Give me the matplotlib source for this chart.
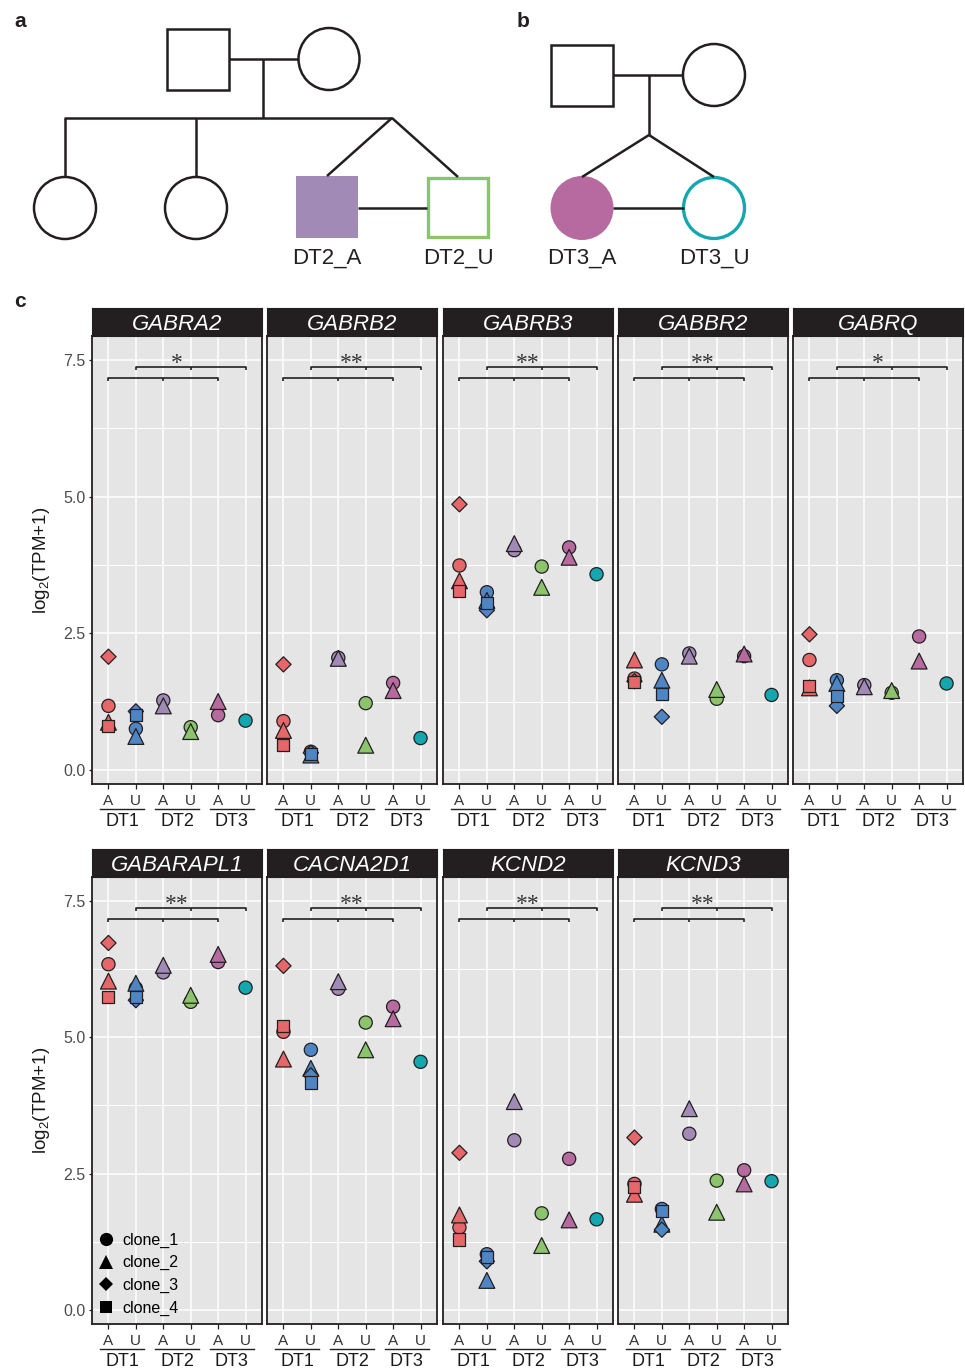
import numpy as np
import matplotlib
matplotlib.use("Agg")
import matplotlib.pyplot as plt
from matplotlib.patches import Rectangle, Ellipse
from matplotlib.lines import Line2D

plt.rcParams["font.family"] = ["Liberation Sans", "DejaVu Sans"]
plt.rcParams["mathtext.default"] = "regular"

# ---- data (log2(TPM+1)) ----
genes = ["GABRA2", "GABRB2", "GABRB3", "GABBR2", "GABRQ",
         "GABARAPL1", "CACNA2D1", "KCND2", "KCND3"]
stars = ["*", "**", "**", "**", "*", "**", "**", "**", "**"]
samples = ["DT1_A", "DT1_U", "DT2_A", "DT2_U", "DT3_A", "DT3_U"]
sample_ticks = ["A", "U", "A", "U", "A", "U"]
donors = ["DT1", "DT2", "DT3"]
clones = ["clone_1", "clone_2", "clone_3", "clone_4"]

# columns follow `samples`; nan = clone not present
clone_1 = [
    [1.17, 0.75, 1.27, 0.78, 1.00, 0.90],
    [0.89, 0.33, 2.05, 1.22, 1.59, 0.58],
    [3.74, 3.25, 4.02, 3.72, 4.07, 3.58],
    [1.67, 1.93, 2.13, 1.30, 2.08, 1.37],
    [2.01, 1.64, 1.55, 1.41, 2.44, 1.58],
    [6.34, 5.90, 6.19, 5.65, 6.38, 5.91],
    [5.10, 4.77, 5.89, 5.27, 5.56, 4.55],
    [1.51, 1.02, 3.11, 1.77, 2.77, 1.66],
    [2.31, 1.85, 3.23, 2.37, 2.56, 2.36],
]
nan = np.nan
clone_2 = [
    [0.87, 0.61, 1.17, 0.70, 1.25, nan],
    [0.72, 0.27, 2.04, 0.45, 1.45, nan],
    [3.46, 3.10, 4.14, 3.34, 3.89, nan],
    [2.01, 1.64, 2.08, 1.47, 2.12, nan],
    [1.50, 1.58, 1.52, 1.45, 1.99, nan],
    [6.03, 5.99, 6.32, 5.77, 6.52, nan],
    [4.60, 4.43, 6.02, 4.77, 5.34, nan],
    [1.74, 0.54, 3.82, 1.18, 1.65, nan],
    [2.12, 1.57, 3.69, 1.79, 2.31, nan],
]
clone_3 = [
    [2.07, 1.07, nan, nan, nan, nan],
    [1.93, 0.31, nan, nan, nan, nan],
    [4.86, 2.92, nan, nan, nan, nan],
    [1.62, 0.97, nan, nan, nan, nan],
    [2.48, 1.17, nan, nan, nan, nan],
    [6.73, 5.68, nan, nan, nan, nan],
    [6.31, 4.30, nan, nan, nan, nan],
    [2.88, 0.89, nan, nan, nan, nan],
    [3.16, 1.47, nan, nan, nan, nan],
]
clone_4 = [
    [0.81, 1.01, nan, nan, nan, nan],
    [0.45, 0.29, nan, nan, nan, nan],
    [3.27, 3.05, nan, nan, nan, nan],
    [1.60, 1.39, nan, nan, nan, nan],
    [1.54, 1.35, nan, nan, nan, nan],
    [5.74, 5.74, nan, nan, nan, nan],
    [5.20, 4.17, nan, nan, nan, nan],
    [1.29, 0.97, nan, nan, nan, nan],
    [2.25, 1.82, nan, nan, nan, nan],
]

# ---- style ----
ink = "#231F20"
sample_colors = ["#E5676A", "#4E86C5", "#A18BB6", "#8BC46D", "#B66AA0", "#14A7AF"]
clone_markers = ["o", "^", "D", "s"]
clone_sizes = [90, 130, 60, 75]

W, H = 965, 1372
fig = plt.figure(figsize=(W / 100, H / 100), dpi=100)


def box(x0, y0, x1, y1):
    return [x0 / W, 1 - y1 / H, (x1 - x0) / W, (y1 - y0) / H]


# ---- pedigrees (a, b) drawn in pixel space ----
bg = fig.add_axes([0, 0, 1, 1])
bg.set_xlim(0, W)
bg.set_ylim(H, 0)
bg.axis("off")
plw = 1.8


def seg(x0, y0, x1, y1):
    bg.plot([x0, x1], [y0, y1], color=ink, lw=plw, solid_capstyle="butt")


# a
bg.add_patch(Rectangle((167, 29), 62, 61, fill=False, ec=ink, lw=plw))
bg.add_patch(Ellipse((329, 59), 61, 62, fill=False, ec=ink, lw=plw))
seg(229, 59, 298, 59)
seg(263, 59, 263, 118)
seg(64, 118, 392, 118)
seg(65, 118, 65, 177)
seg(196, 118, 196, 177)
bg.add_patch(Ellipse((65, 208), 62, 62, fill=False, ec=ink, lw=plw))
bg.add_patch(Ellipse((196, 208), 62, 62, fill=False, ec=ink, lw=plw))
seg(392, 118, 327, 176)
seg(392, 118, 458, 177)
bg.add_patch(Rectangle((296, 176), 62, 62, fc=sample_colors[2], ec="none"))
bg.add_patch(Rectangle((428, 178), 60, 59, fill=False, ec=sample_colors[3], lw=2.4))
seg(358, 208, 427, 208)
bg.text(327, 264, "DT2_A", ha="center", va="baseline", fontsize=16, color=ink)
bg.text(458, 264, "DT2_U", ha="center", va="baseline", fontsize=16, color=ink)

# b
bg.add_patch(Rectangle((551, 45), 62, 61, fill=False, ec=ink, lw=plw))
bg.add_patch(Ellipse((714, 75), 62, 62, fill=False, ec=ink, lw=plw))
seg(613, 75, 683, 75)
seg(649, 75, 649, 135)
seg(649, 135, 582, 177)
seg(649, 135, 714, 177)
bg.add_patch(Ellipse((582, 208), 63, 64, fc=sample_colors[4], ec="none"))
seg(613, 208, 684, 208)
bg.add_patch(Ellipse((714, 208), 61, 61, fill=False, ec=sample_colors[5], lw=2.4))
bg.text(582, 264, "DT3_A", ha="center", va="baseline", fontsize=16, color=ink)
bg.text(714, 264, "DT3_U", ha="center", va="baseline", fontsize=16, color=ink)

for lab, (lx, ly) in zip(["a", "b", "c"], [(20, 27), (523, 27), (20, 307)]):
    bg.text(lx, ly, lab, ha="center", va="baseline", fontsize=15,
            fontweight="bold", color=ink)

# ---- panels (c) ----
lefts = [92, 267, 443, 618, 793]
rows = [(336, 784), (877, 1324)]
pw = 170
strip_h = 28
x = np.arange(1, 7)
all_clones = [clone_1, clone_2, clone_3, clone_4]

for i, gene in enumerate(genes):
    r, c = divmod(i, 5)
    y0, y1 = rows[r]
    ax = fig.add_axes(box(lefts[c], y0, lefts[c] + pw, y1))
    ax.set_facecolor("#E5E5E5")
    ax.set_xlim(0.4, 6.6)
    ax.set_ylim(-0.26, 7.94)
    ax.set_xticks(x)
    ax.set_xticklabels([])
    ax.set_yticks([0, 2.5, 5.0, 7.5])
    ax.set_yticks([1.25, 3.75, 6.25], minor=True)
    ax.grid(which="major", color="white", lw=1.1)
    ax.grid(which="minor", axis="y", color="white", lw=0.7)
    ax.set_axisbelow(True)
    for sp in ax.spines.values():
        sp.set_color(ink)
        sp.set_linewidth(1.3)
    ax.tick_params(axis="x", length=3.5, width=0.9, color=ink)
    ax.tick_params(axis="y", which="minor", length=0)
    if c == 0:
        ax.set_yticklabels(["0.0", "2.5", "5.0", "7.5"])
        ax.tick_params(axis="y", which="major", length=2.5, width=0.9,
                       color=ink, pad=2, labelsize=11.5, labelcolor="#4D4D4D")
    else:
        ax.tick_params(axis="y", which="major", length=0, labelleft=False)

    for k, vals in enumerate(all_clones):
        ax.scatter(x, vals[i], marker=clone_markers[k], s=clone_sizes[k],
                   c=sample_colors, edgecolors=ink, linewidths=0.9, zorder=3)

    # comparison brackets
    bk = dict(color=ink, lw=1.2, solid_capstyle="butt", zorder=2)
    ax.plot([1, 1, 5, 5], [7.11, 7.17, 7.17, 7.11], **bk)
    ax.plot([3, 3], [7.17, 7.11], **bk)
    ax.plot([2, 2, 6, 6], [7.31, 7.37, 7.37, 7.31], **bk)
    ax.plot([4, 4], [7.37, 7.31], **bk)
    ax.text(3.5, 7.44, stars[i], ha="center", va="center", fontsize=17,
            family=["Liberation Serif", "DejaVu Serif"], color="#333333")

    # x labels: sample ticks, underline, donor
    tr = ax.get_xaxis_transform()
    hpx = y1 - y0
    for k, lab in enumerate(sample_ticks):
        ax.text(x[k], -21 / hpx, lab, transform=tr, ha="center", va="baseline",
                fontsize=11, color="#333333")
    for g, d in enumerate(donors):
        ax.plot([2 * g + 0.7, 2 * g + 2.3], [-25 / hpx] * 2, transform=tr,
                color=ink, lw=1.0, clip_on=False)
        ax.text(2 * g + 1.5, -42.5 / hpx, d, transform=tr, ha="center",
                va="baseline", fontsize=13, color="#1A1A1A")

    # strip
    sax = fig.add_axes(box(lefts[c], y0 - strip_h, lefts[c] + pw, y0))
    sax.set_facecolor(ink)
    sax.set_xticks([])
    sax.set_yticks([])
    for sp in sax.spines.values():
        sp.set_color(ink)
    sax.text(0.5, 0.21, gene, transform=sax.transAxes, ha="center",
             va="baseline", fontsize=16, style="italic", color="white")

    if gene == "GABARAPL1":
        handles = [Line2D([], [], ls="none", marker=m, color="black",
                          markersize=ms, markeredgewidth=0)
                   for m, ms in zip(clone_markers, [9.5, 10, 7.5, 8.5])]
        ax.legend(handles, clones, loc="lower left",
                  bbox_to_anchor=(0.045, 0.018), frameon=False, fontsize=11.5,
                  handlelength=0.8, handletextpad=0.6, labelspacing=0.48,
                  borderpad=0, borderaxespad=0)

for (y0, y1) in rows:
    fig.text(42 / W, 1 - (y0 + y1) / 2 / H, "log$_2$(TPM+1)", rotation=90,
             ha="center", va="center", fontsize=13.5, color="#1A1A1A")

fig.savefig("out.png", dpi=100)
